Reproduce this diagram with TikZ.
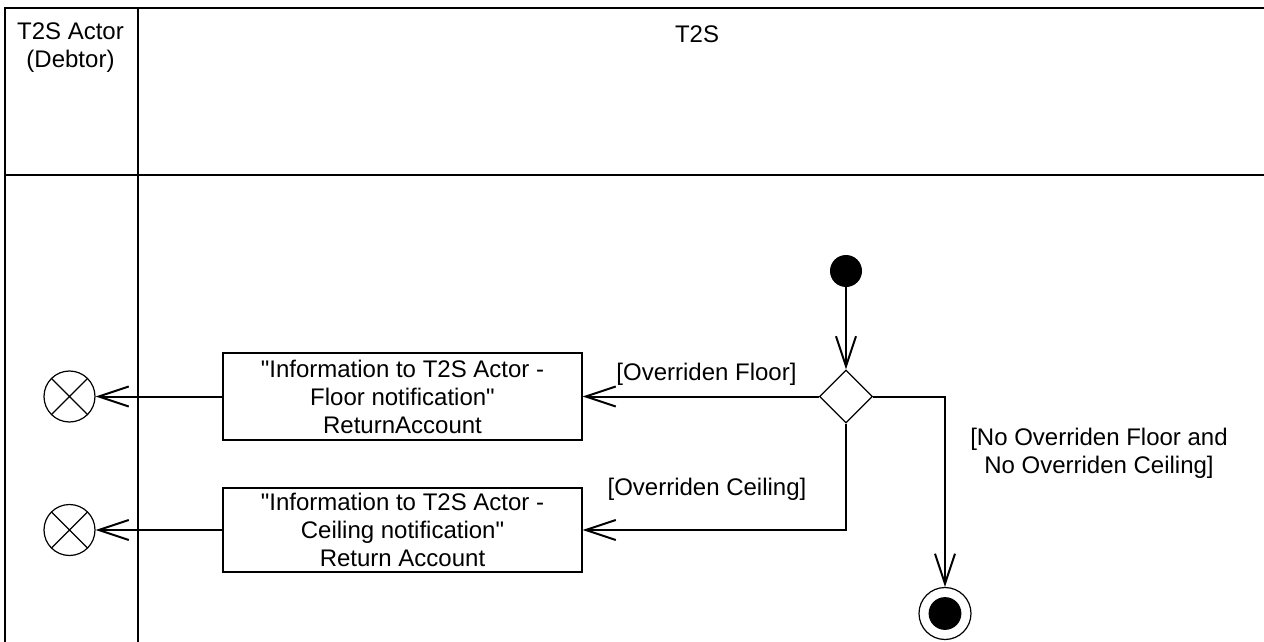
\documentclass[tikz,border=0pt]{standalone}
\usepackage{fontspec}
\setmainfont{Liberation Sans}[Ligatures=TeXOff]
\usetikzlibrary{shapes.geometric,arrows.meta}
\newcommand{\dgfont}{\fontsize{12}{14}\selectfont}
\begin{document}
\begin{tikzpicture}[x=0.5pt,y=-0.5pt,
  lane/.style={line width=1pt},
  act/.style={draw,line width=0.6pt,rectangle,minimum width=179.5pt,align=center,inner sep=0pt,font=\dgfont},
  lbl/.style={font=\dgfont,align=center,inner sep=0pt},
  flow/.style={line width=1pt,-{Straight Barb[length=15pt,width=10pt,line width=1pt]}},
  initnode/.style={circle,fill=black,minimum size=16pt,inner sep=0pt},
  decision/.style={diamond,draw,line width=0.6pt,minimum width=26.5pt,minimum height=26.5pt,inner sep=0pt,aspect=1},
  finalnode/.style={circle,draw,line width=0.6pt,minimum size=26pt,inner sep=0pt},
  flowfinal/.style={circle,draw,line width=0.6pt,minimum size=25.5pt,inner sep=0pt,
    path picture={\draw[line width=0.6pt] (path picture bounding box.north west) -- (path picture bounding box.south east)
      (path picture bounding box.north east) -- (path picture bounding box.south west);}}
]
\useasboundingbox (0,0) rectangle (1264,642);
% swimlanes
\draw[lane] (1264,8) -- (4.5,8) -- (4.5,642);
\draw[lane] (138,8) -- (138,642);
\draw[lane] (4.5,175) -- (1264,175);
\node[lbl] (h1) at (70.5,48) {T2S Actor\\(Debtor)};
\node[lbl] (h2) at (697,34) {T2S};
% nodes
\node[initnode] (init) at (846,271) {};
\node[decision] (dec) at (846,396.5) {};
\node[finalnode] (fin) at (945,613.5) {};
\fill (fin.center) circle (8.2pt);
\node[act,minimum height=43.5pt] (floor) at (402.5,396.5) {"Information to T2S Actor -\\Floor notification"\\ReturnAccount};
\node[act,minimum height=42pt] (ceil) at (402.5,530) {"Information to T2S Actor -\\Ceiling notification"\\Return Account};
\node[flowfinal] (ff1) at (69.5,396.5) {};
\node[flowfinal] (ff2) at (69.5,530) {};
% connectors
\draw[flow] (init.south) -- (dec.north);
\draw[flow] (dec.west) -- (floor.east);
\draw[flow] (dec.south) |- (ceil.east);
\draw[flow] (dec.east) -| (fin.north);
\draw[flow] (floor.west) -- (ff1.east);
\draw[flow] (ceil.west) -- (ff2.east);
% guards
\node[lbl] (lf) at (706.5,374) {[Overriden Floor]};
\node[lbl] (lc) at (707,489) {[Overriden Ceiling]};
\node[lbl] (ln) at (1099,453) {[No Overriden Floor and\\No Overriden Ceiling]};
\end{tikzpicture}
\end{document}
